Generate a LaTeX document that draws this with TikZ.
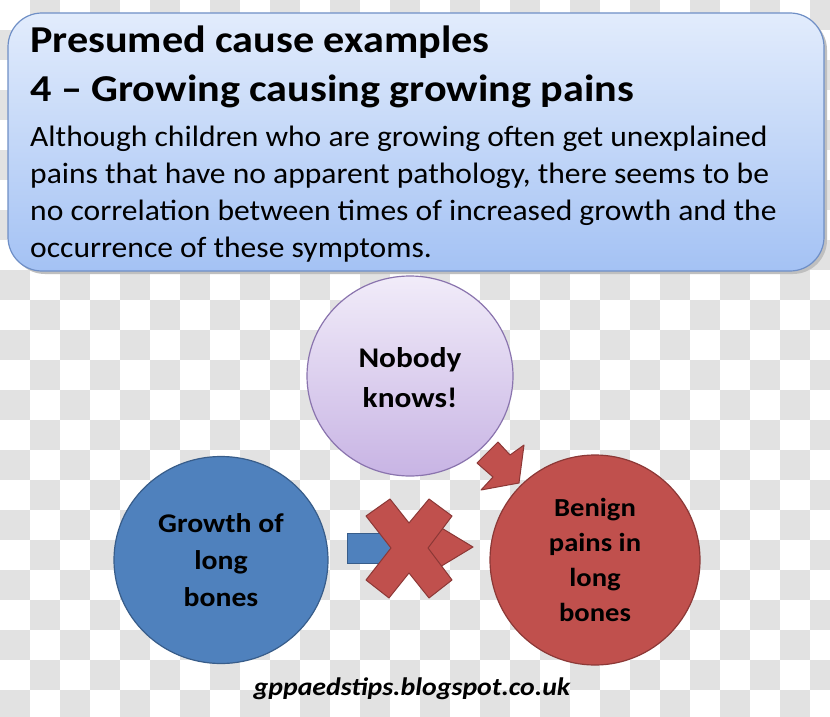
\documentclass[tikz,border=0pt]{standalone}
\usepackage{fontspec}
\setmainfont{Carlito}
\usetikzlibrary{shapes.geometric}
\definecolor{checkgray}{HTML}{E2E2E2}
\definecolor{boxtop}{HTML}{E2ECFC}
\definecolor{boxbot}{HTML}{A4C2F4}
\definecolor{boxline}{HTML}{6F8FC6}
\definecolor{purtop}{HTML}{F1ECF9}
\definecolor{purbot}{HTML}{C8B4E4}
\definecolor{purline}{HTML}{8A74AE}
\definecolor{bluefill}{HTML}{4F81BD}
\definecolor{blueline}{HTML}{385D8A}
\definecolor{redfill}{HTML}{C0504D}
\definecolor{redline}{HTML}{8C3836}
\newcommand{\wideT}[1]{\scalebox{1.11}[1]{#1}}
\newcommand{\wideB}[1]{\scalebox{1.07}[1]{#1}}
\newcommand{\wideC}[1]{\scalebox{1.1}[1]{#1}}
\tikzset{
  bubbletext/.style={align=center, text=black},
  bluebody/.style={ellipse, fill=bluefill, draw=blueline, line width=1.2pt, inner sep=0pt},
  redbody/.style={ellipse, fill=redfill, draw=redline, line width=1.2pt, inner sep=0pt},
  redshape/.style={fill=redfill, draw=redline, line width=1pt, line join=round},
  blueshape/.style={fill=bluefill, draw=blueline, line width=1pt},
  titletext/.style={anchor=base west, inner sep=0pt, font=\fontsize{38}{44}\selectfont\bfseries},
  bodytext/.style={anchor=base west, inner sep=0pt, font=\fontsize{29.5}{37}\selectfont},
}
\begin{document}
\begin{tikzpicture}[x=1pt,y=-1pt]
\useasboundingbox (0,0) rectangle (830,717);
% checkerboard background
\fill[white] (0,0) rectangle (830,717);
\foreach \j in {0,2,...,22}{\foreach \i in {1,3,...,27}{\fill[checkgray] (30*\i,30*\j) rectangle ++(30,30);}}
\foreach \j in {1,3,...,23}{\foreach \i in {0,2,...,26}{\fill[checkgray] (30*\i,30*\j) rectangle ++(30,30);}}
% header box
\fill[black!25, rounded corners=34pt] (11,16) rectangle (827,274);
\shade[top color=boxtop, bottom color=boxbot, rounded corners=34pt] (8,13) rectangle (824,271);
\draw[boxline, line width=1.2pt, rounded corners=34pt] (8,13) rectangle (824,271);
\node[titletext] (t1) at (30,53) {\wideT{Presumed cause examples}};
\node[titletext] (t2) at (30,101) {\wideT{4 – Growing causing growing pains}};
\node[bodytext] (b1) at (30,146) {\wideB{Although children who are growing often get unexplained}};
\node[bodytext] (b2) at (30,183) {\wideB{pains that have no apparent pathology, there seems to be}};
\node[bodytext] (b3) at (30,220.5) {\wideB{no correlation between times of increased growth and the}};
\node[bodytext] (b4) at (30,257.5) {\wideB{occurrence of these symptoms.}};
% circles
\node[ellipse, minimum width=206pt, minimum height=200pt, top color=purtop, bottom color=purbot, draw=purline, line width=1.2pt, inner sep=0pt] (nk) at (410,376) {};
\node[bubbletext, font=\fontsize{28.5}{40}\selectfont\bfseries] (nkt) at (410,378) {\wideC{Nobody}\\\wideC{knows!}};
\node[bluebody, minimum width=214pt, minimum height=207pt] (gl) at (221,560) {};
\node[bubbletext, font=\fontsize{27}{37}\selectfont\bfseries] (glt) at (221,560) {\wideC{Growth of}\\\wideC{long}\\\wideC{bones}};
\node[redbody, minimum width=210pt, minimum height=210pt] (bp) at (595,560) {};
\node[bubbletext, font=\fontsize{26}{35}\selectfont\bfseries] (bpt) at (595,560) {\wideC{Benign}\\\wideC{pains in}\\\wideC{long}\\\wideC{bones}};
% blocked arrow
\draw[blueshape] (347,533) rectangle (422,563);
\draw[redshape] (420,515) -- (473,547) -- (420,579) -- cycle;
\draw[redshape] (366,516) -- (390,499) -- (409,523) -- (429,499) -- (452,516) -- (428,548)
  -- (452,580) -- (429,598) -- (409,573) -- (389,598) -- (366,580) -- (391,548) -- cycle;
% small arrow
\draw[redshape] (498,442) -- (510,455) -- (524,445) -- (519,483) -- (481,490) -- (493,477) -- (477,463) -- cycle;
% footer
\node[anchor=base, inner sep=0pt, font=\fontsize{25.3}{30}\selectfont\bfseries\itshape] (ft) at (412,695) {\wideC{gppaedstips.blogspot.co.uk}};
\end{tikzpicture}
\end{document}
